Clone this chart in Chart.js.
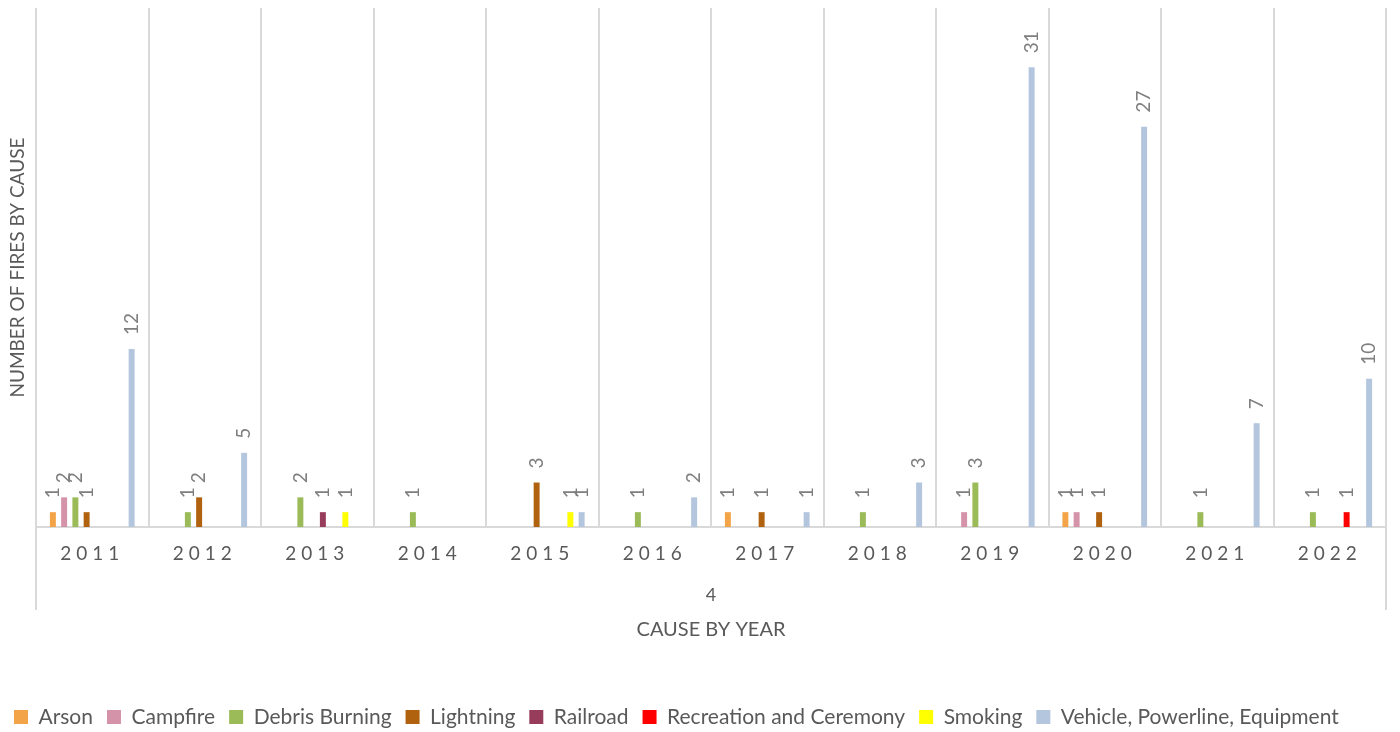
<!DOCTYPE html>
<html>
<head>
<meta charset="utf-8">
<script src="https://cdn.jsdelivr.net/npm/chart.js@4/dist/chart.umd.min.js"></script>
<style>
  html, body { margin: 0; padding: 0; background: #fff; }
  #box { width: 1400px; height: 732px; }
</style>
</head>
<body>
<div id="box"><canvas id="grafikas"></canvas></div>
<script>
// duomenys
const metai = ['2011', '2012', '2013', '2014', '2015', '2016', '2017', '2018', '2019', '2020', '2021', '2022'];
const arson      = [1, null, null, null, null, null, 1, null, null, 1, null, null];
const campfire   = [2, null, null, null, null, null, null, null, 1, 1, null, null];
const debris     = [2, 1, 2, 1, null, 1, null, 1, 3, null, 1, 1];
const lightning  = [1, 2, null, null, 3, null, 1, null, null, 1, null, null];
const railroad   = [null, null, 1, null, null, null, null, null, null, null, null, null];
const recreation = [null, null, null, null, null, null, null, null, null, null, null, 1];
const smoking    = [null, null, 1, null, 1, null, null, null, null, null, null, null];
const vehicle    = [12, 5, null, null, 1, 2, 1, 3, 31, 27, 7, 10];
const antrasLygis = ['4'];

const serijos = [
  ['Arson', arson, '#F4A448'],
  ['Campfire', campfire, '#D493A8'],
  ['Debris Burning', debris, '#9BBB59'],
  ['Lightning', lightning, '#B1620F'],
  ['Railroad', railroad, '#983C5C'],
  ['Recreation and Ceremony', recreation, '#FF0000'],
  ['Smoking', smoking, '#FFFF00'],
  ['Vehicle, Powerline, Equipment', vehicle, '#B3C6DE']
];

const srifas = 'Lato, "Open Sans", sans-serif';
const pilka = '#D9D9D9';

// metu asis su tarpais tarp raidziu
class MetuAsis extends Chart.CategoryScale {
  static id = 'metai';
  drawLabels(area) {
    this.ctx.save();
    this.ctx.letterSpacing = '5px';
    super.drawLabels(area);
    this.ctx.restore();
  }
}
Chart.register(MetuAsis);

// reiksmes virs stulpeliu (pasuktos)
const reiksmiuZymos = {
  id: 'reiksmiuZymos',
  afterDatasetsDraw(chart) {
    const ctx = chart.ctx;
    chart.data.datasets.forEach((ds, i) => {
      const meta = chart.getDatasetMeta(i);
      meta.data.forEach((bar, j) => {
        const v = ds.data[j];
        if (v == null) return;
        ctx.save();
        ctx.translate(bar.x, bar.y - 14);
        ctx.rotate(-Math.PI / 2);
        ctx.font = '19px ' + srifas;
        ctx.fillStyle = '#7F7F7F';
        ctx.textAlign = 'left';
        ctx.textBaseline = 'middle';
        ctx.fillText(String(v), 0, 0);
        ctx.restore();
      });
    });
  }
};

new Chart(document.getElementById('grafikas'), {
  type: 'bar',
  data: {
    labels: metai,
    datasets: serijos.map(s => ({
      label: s[0],
      data: s[1],
      backgroundColor: s[2],
      borderWidth: 0,
      categoryPercentage: 0.8,
      barPercentage: 0.53
    }))
  },
  options: {
    responsive: true,
    maintainAspectRatio: false,
    animation: false,
    layout: { padding: { top: 8, right: 14, left: 0, bottom: -5.5 } },
    plugins: {
      tooltip: { enabled: false },
      legend: {
        position: 'bottom',
        align: 'start',
        labels: {
          font: { family: srifas, size: 21 },
          color: '#595959',
          boxWidth: 14,
          boxHeight: 14,
          padding: 14
        }
      }
    },
    scales: {
      x: {
        type: 'metai',
        weight: 0,
        offset: true,
        grid: {
          offset: true,
          color: pilka,
          lineWidth: 2,
          drawTicks: true,
          tickLength: 41,
          tickColor: c => (c.type !== 'tick' || c.index === 0) ? pilka : 'rgba(0,0,0,0)'
        },
        border: { color: pilka, width: 2 },
        ticks: {
          font: { family: srifas, size: 19 },
          color: '#595959',
          padding: -26,
          maxRotation: 0,
          autoSkip: false
        },
        afterFit: s => { s.height = 41; }
      },
      x2: {
        type: 'category',
        position: 'bottom',
        weight: 1,
        labels: antrasLygis,
        offset: true,
        grid: {
          offset: true,
          drawOnChartArea: false,
          color: pilka,
          lineWidth: 2,
          tickLength: 42
        },
        border: { display: false },
        ticks: {
          font: { family: srifas, size: 18 },
          color: '#595959',
          padding: -26
        },
        title: {
          display: true,
          text: 'CAUSE BY YEAR',
          font: { family: srifas, size: 20 },
          color: '#595959',
          padding: { top: 0, bottom: 51 }
        },
        afterFit: s => { s.height = 124.5; }
      },
      y: {
        min: 0,
        max: 35,
        grid: { display: false },
        border: { display: false },
        ticks: { display: false },
        title: {
          display: true,
          text: 'NUMBER OF FIRES BY CAUSE',
          font: { family: srifas, size: 19 },
          color: '#595959',
          padding: { top: 6, bottom: 4 }
        },
        afterFit: s => { s.width = 36; }
      }
    }
  },
  plugins: [reiksmiuZymos]
});
</script>
</body>
</html>
